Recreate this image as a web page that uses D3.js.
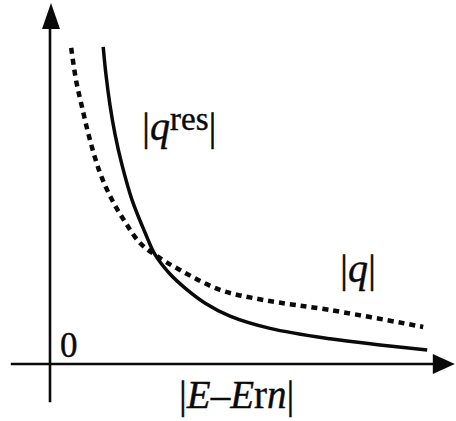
<!DOCTYPE html>
<html>
  <head>
    <meta charset="utf-8">
    <script src="https://d3js.org/d3.v7.min.js"></script>
    <style>
      body { margin: 0; background: #fff; }
      .lbl {
        font-family: "Liberation Serif", "DejaVu Serif", serif;
        fill: #0a0a0a;
        stroke: #0a0a0a;
        stroke-width: 0.4px;
      }
    </style>
  </head>
  <body>
    <svg width="456" height="421"></svg>
    <script>
      // curve values (arbitrary units, origin at the axes crossing)
      const resX = [1.33, 1.40, 1.50, 1.63, 1.80, 2.05, 2.38, 2.63, 3.00, 3.43, 3.88, 4.50, 5.50, 7.00, 8.25, 9.43];
      const resY = [8.81, 8.03, 7.19, 6.36, 5.53, 4.56, 3.64, 3.03, 2.50, 2.06, 1.69, 1.33, 0.99, 0.70, 0.53, 0.39];
      const qX = [0.53, 0.65, 0.80, 1.00, 1.25, 1.55, 1.88, 2.25, 2.63, 3.25, 4.25, 5.33, 7.00, 9.33];
      const qY = [8.78, 7.89, 7.14, 6.22, 5.31, 4.56, 3.94, 3.36, 3.03, 2.61, 2.06, 1.78, 1.50, 1.03];

      const svg = d3.select('svg');

      // scales: 0..10 on both axes
      const x = d3.scaleLinear().domain([0, 10]).range([50, 450]);
      const y = d3.scaleLinear().domain([0, 10]).range([364, 4]);

      const ink = '#0a0a0a';

      // axes (drawn a little past the origin, with arrow heads)
      svg.append('line')
        .attr('x1', x(-0.98)).attr('x2', x(9.7))
        .attr('y1', y(0)).attr('y2', y(0))
        .attr('stroke', ink).attr('stroke-width', 2.6);
      svg.append('line')
        .attr('x1', x(0)).attr('x2', x(0))
        .attr('y1', y(-1.06)).attr('y2', y(9.4))
        .attr('stroke', ink).attr('stroke-width', 2.6);

      // arrow heads
      const xt = x(10.12), yt = y(10.03);
      svg.append('path')
        .attr('d', `M${xt},${y(0)} L${xt - 22},${y(0) - 10} L${xt - 22},${y(0) + 10} Z`)
        .attr('fill', ink);
      svg.append('path')
        .attr('d', `M${x(0) + 1},${yt} L${x(0) - 8},${yt + 26} L${x(0) + 10},${yt + 26} Z`)
        .attr('fill', ink);

      const line = d3.line()
        .x(d => x(d[0]))
        .y(d => y(d[1]))
        .curve(d3.curveCatmullRom.alpha(0.5));

      // |q| dotted curve
      svg.append('path')
        .datum(d3.zip(qX, qY))
        .attr('d', line)
        .attr('fill', 'none')
        .attr('stroke', ink)
        .attr('stroke-width', 4.5)
        .attr('stroke-dasharray', '6,5');

      // |q^res| solid curve
      svg.append('path')
        .datum(d3.zip(resX, resY))
        .attr('d', line)
        .attr('fill', 'none')
        .attr('stroke', ink)
        .attr('stroke-width', 3.5);

      // labels
      svg.append('text').attr('class', 'lbl')
        .attr('x', 60).attr('y', 357)
        .style('font-size', '35px')
        .text('0');

      const tRes = svg.append('text').attr('class', 'lbl')
        .attr('x', 142).attr('y', 140)
        .style('font-size', '40px');
      tRes.append('tspan').text('|');
      tRes.append('tspan').style('font-style', 'italic').text('q');
      tRes.append('tspan').attr('dy', -10).style('font-size', '33px').text('res');
      tRes.append('tspan').attr('dy', 10).text('|');

      const tQ = svg.append('text').attr('class', 'lbl')
        .attr('x', 340).attr('y', 282)
        .style('font-size', '40px');
      tQ.append('tspan').text('|');
      tQ.append('tspan').style('font-style', 'italic').text('q');
      tQ.append('tspan').text('|');

      const tE = svg.append('text').attr('class', 'lbl')
        .attr('x', 179).attr('y', 408)
        .style('font-size', '39px');
      tE.append('tspan').text('|');
      tE.append('tspan').style('font-style', 'italic').text('E');
      tE.append('tspan').text('–');
      tE.append('tspan').style('font-style', 'italic').text('E');
      tE.append('tspan').text('r');
      tE.append('tspan').style('font-style', 'italic').text('n');
      tE.append('tspan').text('|');
    </script>
  </body>
</html>
